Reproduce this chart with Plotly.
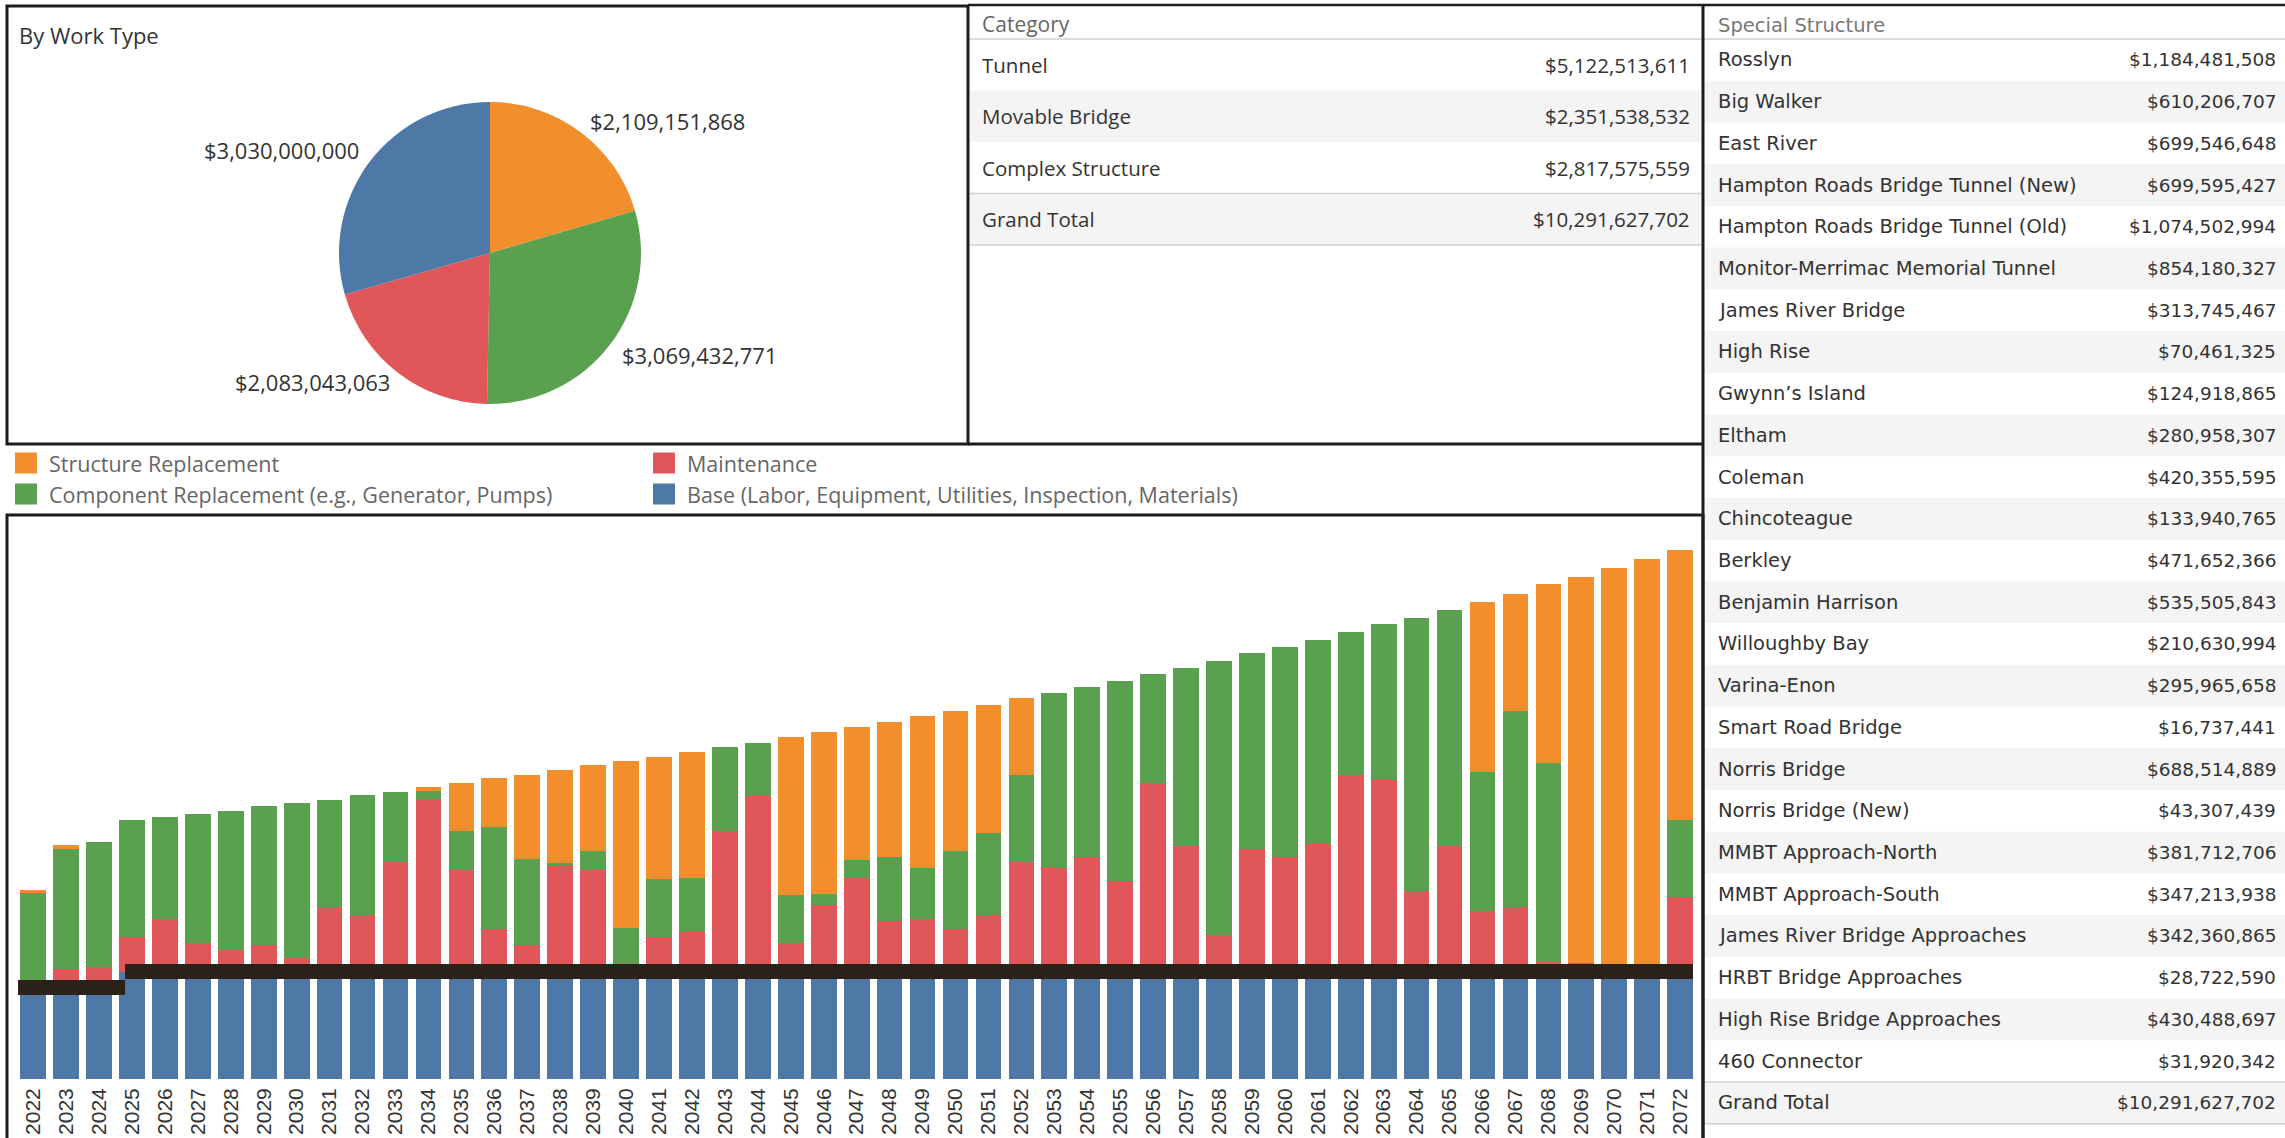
import plotly.graph_objects as go

W, H = 2285, 1138


def xp(px):
    return px / W


def yp(py):
    return 1 - py / H


# ---------------- data ----------------
years = ["2022", "2023", "2024", "2025", "2026", "2027", "2028", "2029", "2030", "2031",
         "2032", "2033", "2034", "2035", "2036", "2037", "2038", "2039", "2040", "2041",
         "2042", "2043", "2044", "2045", "2046", "2047", "2048", "2049", "2050", "2051",
         "2052", "2053", "2054", "2055", "2056", "2057", "2058", "2059", "2060", "2061",
         "2062", "2063", "2064", "2065", "2066", "2067", "2068", "2069", "2070", "2071",
         "2072"]

# $ millions per year
base = [55.0, 55.0, 55.0, 59.69, 59.69, 59.69, 59.69, 59.69, 59.69, 59.69,
        59.69, 59.69, 59.69, 59.69, 59.69, 59.69, 59.69, 59.69, 59.69, 59.69,
        59.69, 59.69, 59.69, 59.69, 59.69, 59.69, 59.69, 59.69, 59.69, 59.69,
        59.69, 59.69, 59.69, 59.69, 59.69, 59.69, 59.69, 59.69, 59.69, 59.69,
        59.69, 59.69, 59.69, 59.69, 59.69, 59.69, 59.69, 59.69, 59.69, 59.69,
        59.69]
maintenance = [0.0, 6.0, 7.1, 19.1, 29.1, 15.8, 12.0, 14.7, 7.6, 36.0,
               31.6, 60.9, 96.1, 56.5, 23.6, 14.7, 59.2, 56.5, 4.9, 19.1,
               22.0, 78.3, 97.4, 15.8, 37.1, 52.0, 28.0, 29.1, 23.6, 31.6,
               60.9, 57.6, 63.8, 50.3, 104.8, 69.8, 20.2, 68.1, 63.8, 70.9,
               109.2, 106.5, 44.9, 69.8, 33.6, 36.0, 5.3, 4.9, 4.2, 4.2,
               41.6]
component = [48.9, 66.7, 69.6, 65.2, 56.7, 71.8, 77.4, 77.4, 86.3, 59.6,
             66.7, 39.1, 4.2, 21.8, 56.9, 48.0, 0.9, 10.7, 19.3, 32.2,
             30.0, 46.3, 29.8, 26.7, 6.0, 10.0, 35.8, 28.5, 43.6, 45.6,
             48.3, 97.2, 94.5, 111.4, 60.7, 99.2, 152.3, 109.0, 116.8, 113.2,
             79.4, 86.5, 151.7, 131.2, 77.4, 109.0, 110.8, 0.0, 0.0, 0.0,
             42.7]
structure = [1.1, 2.2, 0.0, 0.0, 0.0, 0.0, 0.0, 0.0, 0.0, 0.0,
             0.0, 0.0, 2.2, 26.5, 27.1, 46.7, 52.0, 47.6, 93.0, 67.8,
             69.8, 0.0, 0.0, 88.1, 90.1, 73.8, 74.9, 84.5, 77.8, 71.2,
             42.9, 0.0, 0.0, 0.0, 0.0, 0.0, 0.0, 0.0, 0.0, 0.0,
             0.0, 0.0, 0.0, 0.0, 94.5, 64.9, 99.2, 214.4, 220.0, 225.3,
             150.1]

work_types = ["Structure Replacement",
              "Component Replacement (e.g., Generator, Pumps)",
              "Maintenance",
              "Base (Labor, Equipment, Utilities, Inspection, Materials)"]
work_type_totals = [2109151868, 3069432771, 2083043063, 3030000000]

category_names = ["Tunnel", "Movable Bridge", "Complex Structure"]
category_values = [5122513611, 2351538532, 2817575559]
grand_total = 10291627702

structure_names = ["Rosslyn", "Big Walker", "East River",
                   "Hampton Roads Bridge Tunnel (New)", "Hampton Roads Bridge Tunnel (Old)",
                   "Monitor-Merrimac Memorial Tunnel", "James River Bridge", "High Rise",
                   "Gwynn\u2019s Island", "Eltham", "Coleman", "Chincoteague", "Berkley",
                   "Benjamin Harrison", "Willoughby Bay", "Varina-Enon", "Smart Road Bridge",
                   "Norris Bridge", "Norris Bridge (New)", "MMBT Approach-North",
                   "MMBT Approach-South", "James River Bridge Approaches",
                   "HRBT Bridge Approaches", "High Rise Bridge Approaches", "460 Connector"]
structure_values = [1184481508, 610206707, 699546648, 699595427, 1074502994, 854180327,
                    313745467, 70461325, 124918865, 280958307, 420355595, 133940765,
                    471652366, 535505843, 210630994, 295965658, 16737441, 688514889,
                    43307439, 381712706, 347213938, 342360865, 28722590, 430488697,
                    31920342]

# ---------------- styles ----------------
C_ORANGE = "#f28e2b"
C_GREEN = "#59a14f"
C_RED = "#e15759"
C_BLUE = "#4e79a7"
type_colors = [C_ORANGE, C_GREEN, C_RED, C_BLUE]
TB_FONT = "Open Sans"
SP_FONT = "DejaVu Sans"
TXT = "#333333"
GRAY_TXT = "#666666"
ROW_GRAY = "#f4f4f4"
LINE_GRAY = "#d0d0d0"
BLACK = "#1c1c1c"
REDACT = "#2c2118"


def money(v):
    return f"${v:,.0f}"


fig = go.Figure()

# stacked bars
for name, vals, col in [(work_types[3], base, C_BLUE),
                        (work_types[2], maintenance, C_RED),
                        (work_types[1], component, C_GREEN),
                        (work_types[0], structure, C_ORANGE)]:
    fig.add_trace(go.Bar(x=years, y=vals, name=name, marker=dict(color=col, line=dict(width=0)),
                         showlegend=False, hovertemplate="%{x}: $%{y:.1f}M<extra>" + name + "</extra>"))

# pie
fig.add_trace(go.Pie(values=work_type_totals, labels=work_types, sort=False, direction="clockwise",
                     rotation=0, marker=dict(colors=type_colors, line=dict(width=0)),
                     textinfo="none", showlegend=False,
                     domain=dict(x=[xp(339), xp(641)], y=[yp(404), yp(102)])))

shapes = []
annotations = []


def rect(x0, y0, x1, y1, fill=None, line_col=None, lw=0):
    shapes.append(dict(type="rect", xref="paper", yref="paper", x0=xp(x0), x1=xp(x1),
                       y0=yp(y1), y1=yp(y0), fillcolor=fill if fill else "rgba(0,0,0,0)",
                       line=dict(color=line_col if line_col else "rgba(0,0,0,0)", width=lw),
                       layer="below" if fill else "above"))


def hline(x0, x1, y, col, lw):
    shapes.append(dict(type="line", xref="paper", yref="paper", x0=xp(x0), x1=xp(x1),
                       y0=yp(y), y1=yp(y), line=dict(color=col, width=lw)))


def text(x, y, s, size, color, family=TB_FONT, anchor="left"):
    annotations.append(dict(x=xp(x), y=yp(y), xref="paper", yref="paper", text=s,
                            showarrow=False, xanchor=anchor, yanchor="middle",
                            font=dict(family=family, size=size, color=color)))


# ---- pie panel ----
text(17, 35, "By Work Type", 22, TXT)
pie_label_pos = [(667, 121, "center"), (699, 355, "center"), (312, 382, "center"), (281, 150, "center")]
for (lx, ly, anc), v in zip(pie_label_pos, work_type_totals):
    text(lx, ly, money(v), 22, TXT, anchor=anc)

# ---- legend ----
legend_pos = [(15, 463), (15, 494), (653, 463), (653, 494)]
for (lx, ly), name, col in zip(legend_pos, work_types, type_colors):
    shapes.append(dict(type="rect", xref="paper", yref="paper", x0=xp(lx), x1=xp(lx + 22),
                       y0=yp(ly + 10.5), y1=yp(ly - 10.5), fillcolor=col, line=dict(width=0)))
    text(lx + 32, ly, name, 21.5, GRAY_TXT)

# ---- category table ----
cat_top, cat_row_h = 39, 51.5
text(980, 24, "Category", 21, GRAY_TXT)
hline(969, 1702, cat_top, LINE_GRAY, 1.5)
cat_rows = list(zip(category_names, category_values)) + [("Grand Total", grand_total)]
for i, (n, v) in enumerate(cat_rows):
    y0 = cat_top + i * cat_row_h
    if i % 2 == 1:
        rect(970, y0, 1701, y0 + cat_row_h, fill=ROW_GRAY)
    text(980, y0 + cat_row_h / 2, n, 20.5, TXT)
    text(1692, y0 + cat_row_h / 2, money(v), 20.5, TXT, anchor="right")
hline(969, 1702, cat_top + 3 * cat_row_h, LINE_GRAY, 1.5)
hline(969, 1702, cat_top + 4 * cat_row_h, LINE_GRAY, 1.5)

# ---- special structure table ----
sp_top, sp_row_h = 39, 41.72
text(1716, 26, "Special Structure", 19.5, "#777777", family=SP_FONT)
hline(1704, 2285, sp_top, LINE_GRAY, 1.5)
sp_rows = list(zip(structure_names, structure_values)) + [("Grand Total", grand_total)]
for i, (n, v) in enumerate(sp_rows):
    y0 = sp_top + i * sp_row_h
    if i % 2 == 1:
        rect(1705, y0, 2285, y0 + sp_row_h, fill=ROW_GRAY)
    text(1716, y0 + sp_row_h / 2, n, 19.5, TXT, family=SP_FONT)
    text(2278, y0 + sp_row_h / 2, money(v), 18.5, TXT, family=SP_FONT, anchor="right")
n_sp = len(sp_rows)
hline(1704, 2285, sp_top + (n_sp - 1) * sp_row_h, LINE_GRAY, 1.5)
hline(1704, 2285, sp_top + n_sp * sp_row_h, LINE_GRAY, 1.5)

# ---- panel borders ----
rect(7, 6, 968, 444, line_col=BLACK, lw=3)
hline(968, 2285, 5, BLACK, 2.5)
hline(968, 1703, 444, BLACK, 3)
shapes.append(dict(type="line", xref="paper", yref="paper", x0=xp(1703), x1=xp(1703),
                   y0=yp(1140), y1=yp(4), line=dict(color=BLACK, width=3)))
rect(7, 515, 1703, 1160, line_col=BLACK, lw=3)

# ---- redaction bars over the bar chart ----
shapes.append(dict(type="rect", xref="x", yref="y", x0=2.79, x1=50.39, y0=55.6, y1=63.9,
                   fillcolor=REDACT, line=dict(width=0), layer="above"))
shapes.append(dict(type="rect", xref="x", yref="y", x0=-0.46, x1=2.79, y0=46.7, y1=55.0,
                   fillcolor=REDACT, line=dict(width=0), layer="above"))

fig.update_layout(
    width=W, height=H,
    margin=dict(l=0, r=0, t=0, b=0),
    paper_bgcolor="white", plot_bgcolor="white",
    barmode="stack", bargap=0.22,
    xaxis=dict(domain=[xp(16.7), xp(1696.6)], type="category", range=[-0.5, 50.5],
               tickangle=-90, ticks="", showgrid=False, zeroline=False, showline=False,
               tickfont=dict(family="Liberation Sans", size=21, color="#333333"),
               ticklabelstandoff=4),
    yaxis=dict(domain=[yp(1079), yp(524)], range=[0, 308.5], visible=False),
    shapes=shapes,
    annotations=annotations,
)

fig.write_html("out.html", config={"displayModeBar": False},
               post_script="document.body.style.margin='0';document.body.style.overflow='hidden';")
